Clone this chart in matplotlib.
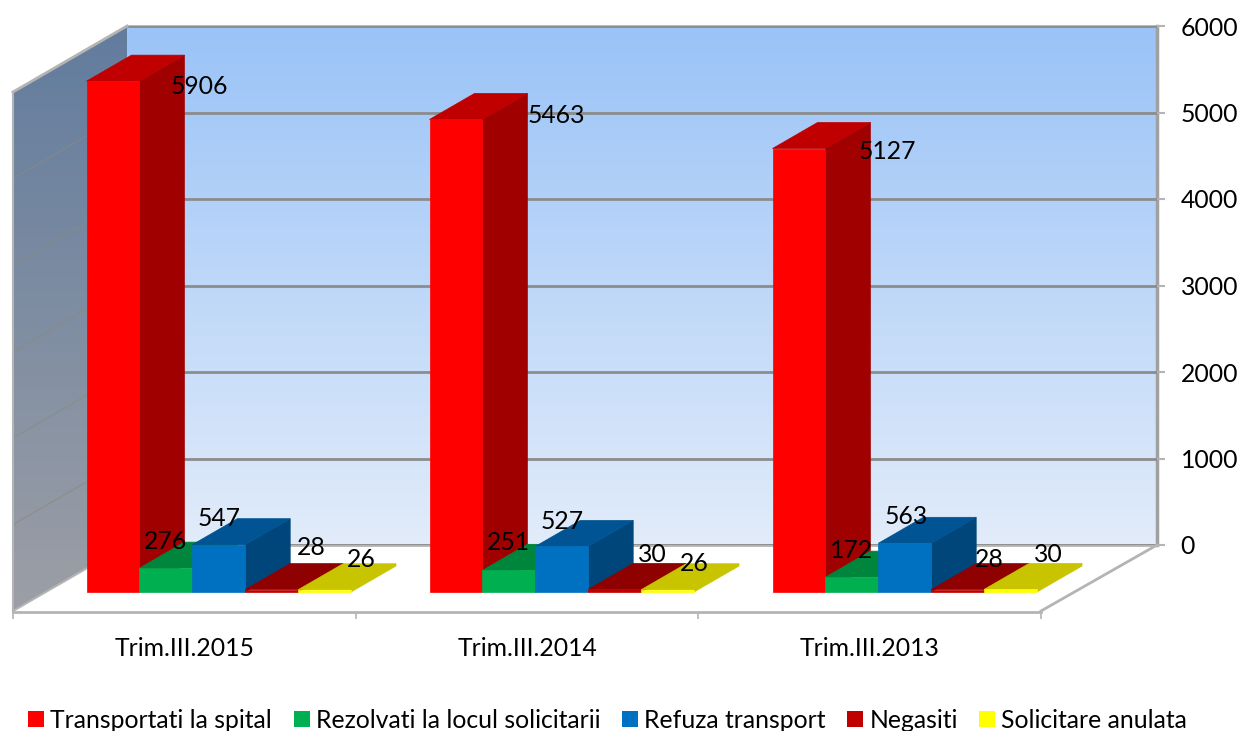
import numpy as np
import matplotlib
matplotlib.use("Agg")
import matplotlib.pyplot as plt
from matplotlib.patches import Polygon, Patch

plt.rcParams['font.family'] = ['Lato', 'DejaVu Sans']

W, H = 1238, 731
FS = 17.8

# data
categories = ["Trim.III.2015", "Trim.III.2014", "Trim.III.2013"]
series = ["Transportati la spital", "Rezolvati la locul solicitarii", "Refuza transport",
          "Negasiti", "Solicitare anulata"]
transportati = [5906, 5463, 5127]
rezolvati = [276, 251, 172]
refuza = [547, 527, 563]
negasiti = [28, 30, 28]
anulata = [26, 26, 30]
value_ticks = [0, 1000, 2000, 3000, 4000, 5000, 6000]

# styles: front, top, side
colors = [("#FF0000", "#C00000", "#A00000"),
          ("#00B050", "#00853C", "#006A30"),
          ("#0070C0", "#005493", "#00467A"),
          ("#C00000", "#8F0000", "#8F0000"),
          ("#FFFF00", "#C8C400", "#C8C400")]
legend_colors = ["#FF0000", "#00B050", "#0070C0", "#C00000", "#FFFF00"]

# label offsets in pixels from the top centre of the front face
label_offsets = [[(86, -5), (100, 4), (88, -3)],
                 [(0, 27), (0, 28), (0, 27)],
                 [(0, 26), (0, 25), (1, 27)],
                 [(40, 42), (38, 35), (32, 30)],
                 [(37, 30), (27, 26), (38, 35)]]

# geometry of the fake 3d, in pixels
PX_PER_UNIT = 519 / 6000
BAR_W = 52.9
BASE_Y = 592
FIRST_X = 86.5
GROUP_STEP = 343 / BAR_W
DEPTH_X = 45 / BAR_W
DEPTH_Y = 26 / PX_PER_UNIT
FLOOR_BACK = (BASE_Y - 545) / PX_PER_UNIT
FLOOR_FRONT = (BASE_Y - 611) / PX_PER_UNIT
WALL_BACK = (127 - FIRST_X) / BAR_W
WALL_FRONT = (13 - FIRST_X) / BAR_W
RIGHT_BACK = (1157 - FIRST_X) / BAR_W
RIGHT_FRONT = (1041 - FIRST_X) / BAR_W
EDGE = "#B4B4B4"

fig = plt.figure(figsize=(W / 100, H / 100), dpi=100, facecolor="white")

# back wall with the real value axis
ax_back = fig.add_axes([127 / W, (H - 545) / H, 1030 / W, 519 / H])
grad = np.linspace(0, 1, 256).reshape(-1, 1)
back_cmap = matplotlib.colors.LinearSegmentedColormap.from_list("b", ["#9AC3F7", "#E2ECFA"])
ax_back.imshow(grad, extent=[0, 1, 0, 6000], aspect="auto", cmap=back_cmap, zorder=0)
ax_back.set_xlim(0, 1)
ax_back.set_ylim(0, 6000)
ax_back.set_yticks(value_ticks)
ax_back.yaxis.tick_right()
ax_back.set_xticks([])
ax_back.tick_params(axis="y", length=6, width=1.5, labelsize=FS, pad=11, color=EDGE, labelcolor="black")
ax_back.grid(axis="y", color="#8C8C8C", linewidth=2, zorder=1)
ax_back.set_axisbelow(False)
ax_back.spines["left"].set_visible(False)
for name in ["top", "bottom"]:
    ax_back.spines[name].set_color(EDGE)
    ax_back.spines[name].set_linewidth(2)
ax_back.spines["right"].set_color("#A0A0A0")
ax_back.spines["right"].set_linewidth(2.5)

# overlay for the walls and the bars
ax = fig.add_axes([0, 0, 1, 1], facecolor="none")
xlim = (-FIRST_X / BAR_W, (W - FIRST_X) / BAR_W)
ylim = ((BASE_Y - H) / PX_PER_UNIT, BASE_Y / PX_PER_UNIT)
ax.axis("off")

# left wall
wall_pts = [(WALL_FRONT, FLOOR_FRONT), (WALL_BACK, FLOOR_BACK),
            (WALL_BACK, FLOOR_BACK + 6000), (WALL_FRONT, FLOOR_FRONT + 6000)]
wall_cmap = matplotlib.colors.LinearSegmentedColormap.from_list("w", ["#627C9E", "#9C9FA6"])
im = ax.imshow(grad, extent=[WALL_FRONT, WALL_BACK, FLOOR_FRONT, FLOOR_BACK + 6000],
               aspect="auto", cmap=wall_cmap, origin="upper", zorder=1)
wall_poly = Polygon(wall_pts, closed=True, transform=ax.transData, facecolor="none", edgecolor="none")
ax.add_patch(wall_poly)
im.set_clip_path(wall_poly)
for v in value_ticks[1:-1]:
    ax.plot([WALL_FRONT, WALL_BACK], [FLOOR_FRONT + v, FLOOR_BACK + v], color="#8A8A80",
            lw=1, alpha=0.6, zorder=2)
# wall and floor edges
ax.plot([WALL_FRONT, WALL_BACK], [FLOOR_FRONT + 6000, FLOOR_BACK + 6000], color=EDGE, lw=2, zorder=2)
ax.plot([WALL_FRONT, WALL_FRONT], [FLOOR_FRONT, FLOOR_FRONT + 6000], color=EDGE, lw=1.5, zorder=2)
ax.plot([WALL_FRONT, WALL_BACK], [FLOOR_FRONT, FLOOR_BACK], color=EDGE, lw=1.5, zorder=2)
ax.plot([RIGHT_FRONT, RIGHT_BACK], [FLOOR_FRONT, FLOOR_BACK], color=EDGE, lw=2, zorder=2)

# bars
all_series = [transportati, rezolvati, refuza, negasiti, anulata]
z = 3
for g in range(len(categories)):
    x0 = g * GROUP_STEP
    for s, values in enumerate(all_series):
        v = values[g]
        left = x0 + s
        right = left + 1
        front, top, side = colors[s]
        ax.add_patch(Polygon([(right, 0), (right + DEPTH_X, DEPTH_Y), (right + DEPTH_X, v + DEPTH_Y), (right, v)],
                             facecolor=side, edgecolor=side, lw=0.5, zorder=z))
        ax.add_patch(Polygon([(left, v), (left + DEPTH_X, v + DEPTH_Y), (right + DEPTH_X, v + DEPTH_Y), (right, v)],
                             facecolor=top, edgecolor=top, lw=0.5, zorder=z))
        ax.add_patch(Polygon([(left, 0), (right, 0), (right, v), (left, v)],
                             facecolor=front, edgecolor=front, lw=0.5, zorder=z))
        z += 1
# labels go on top of everything
for g in range(len(categories)):
    x0 = g * GROUP_STEP
    for s, values in enumerate(all_series):
        ax.annotate(str(values[g]), (x0 + s + 0.5, values[g]), xytext=label_offsets[s][g],
                    textcoords="offset pixels", ha="center", va="center", fontsize=FS,
                    color="black", zorder=50)
ax.set_xlim(xlim)
ax.set_ylim(ylim)

# category axis along the front of the floor
ax_cat = fig.add_axes([13 / W, (H - 612) / H, 1028 / W, 0.001], facecolor="none")
ax_cat.set_xlim(0, len(categories))
ax_cat.set_ylim(0, 1)
ax_cat.set_yticks([])
ax_cat.set_xticks(range(len(categories) + 1))
ax_cat.set_xticklabels([])
ax_cat.set_xticks(np.arange(len(categories)) + 0.5, minor=True)
ax_cat.set_xticklabels(categories, minor=True, fontsize=FS)
ax_cat.tick_params(axis="x", which="major", length=5, width=1.2, color=EDGE)
ax_cat.tick_params(axis="x", which="minor", length=0, pad=18)
for name in ["left", "right", "top"]:
    ax_cat.spines[name].set_visible(False)
ax_cat.spines["bottom"].set_color(EDGE)
ax_cat.spines["bottom"].set_linewidth(2)

# legend
handles = [Patch(facecolor=c, edgecolor="none") for c in legend_colors]
fig.legend(handles, series, ncol=5, loc="center left", bbox_to_anchor=(28 / W, (H - 720) / H),
           frameon=False, fontsize=FS, handlelength=0.65, handleheight=0.65, handletextpad=0.25,
           columnspacing=0.87, borderpad=0, borderaxespad=0)

fig.savefig("out.png", dpi=100)
